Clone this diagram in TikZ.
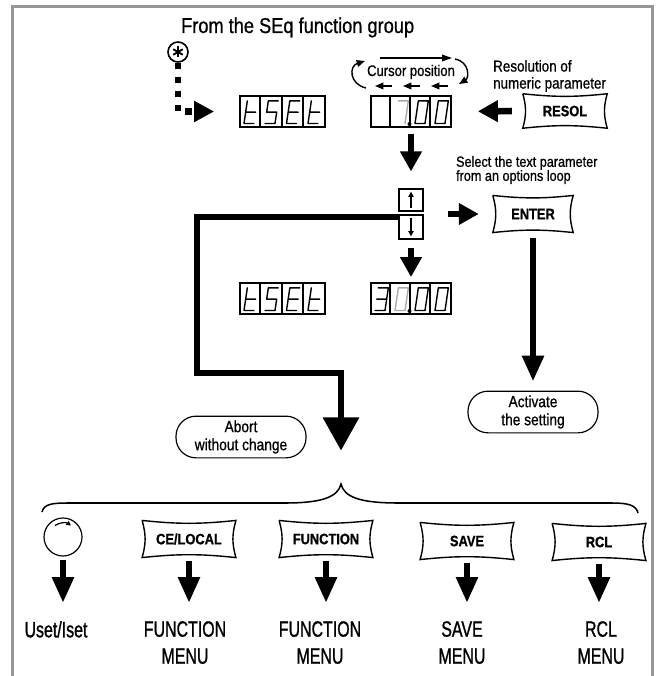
\documentclass[tikz,border=0pt]{standalone}
\usepackage{fontspec}
\setmainfont[FakeStretch=0.85, FakeBold=0.8]{Liberation Sans}
\newfontfamily\condfont[FakeStretch=0.72, FakeBold=1]{Liberation Sans}
\usetikzlibrary{arrows.meta, positioning, calc}

\definecolor{framegray}{RGB}{150,150,150}
\definecolor{dimseg}{RGB}{170,170,170}

\newcommand{\cushion}[1]{%
  \draw[line width=1.2pt] (#1.north west) to[bend right=6] (#1.north east)
    to[bend right=16] (#1.south east) to[bend right=6] (#1.south west)
    to[bend right=16] (#1.north west);}

\tikzset{
  disp/.style={draw, line width=1.5pt, minimum width=2.55cm, minimum height=0.93cm, inner sep=0pt},
  seg/.style={line width=1.2pt, line cap=round, line join=round, x={(0.3cm,0)}, y={(0.05cm,0.34cm)}},
  pics/segt/.style={code={\draw[seg] (0,2) -- (0,0) -- (1,0) (0,1) -- (1,1);}},
  pics/segs/.style={code={\draw[seg] (1,2) -- (0,2) -- (0,1) -- (1,1) -- (1,0) -- (0,0);}},
  pics/sege/.style={code={\draw[seg] (1,2) -- (0,2) -- (0,0) -- (1,0) (0,1) -- (1,1);}},
  pics/segseven/.style={code={\draw[seg] (0,2) -- (1,2) -- (1,0);}},
  pics/segzero/.style={code={\draw[seg] (0,0) -- (1,0) -- (1,2) -- (0,2) -- cycle;}},
  pics/segthree/.style={code={\draw[seg] (0,2) -- (1,2) -- (1,0) -- (0,0) (0,1) -- (1,1);}},
  btn/.style={minimum width=2.8cm, minimum height=1.1cm, inner sep=0pt, font=\bfseries\fontsize{12.9}{14}\selectfont},
  pill/.style={draw, line width=1pt, rounded corners=0.6cm, minimum width=3.9cm, minimum height=1.25cm,
    inner sep=0pt, align=center, font=\fontsize{13.8}{15.4}\selectfont},
  lab/.style={anchor=north, inner sep=0pt, align=center, font=\condfont\fontsize{18.9}{23}\selectfont},
  bigarrow/.style={line width=0.2cm, -{Triangle[length=0.6cm, width=0.62cm]}},
  longarrow/.style={line width=0.2cm, -{Triangle[length=0.78cm, width=0.62cm]}},
  thinarrow/.style={line width=1.2pt, -{Triangle[length=0.25cm, width=0.2cm]}}
}

\begin{document}
\begin{tikzpicture}[x=0.03cm, y=-0.03cm]
\useasboundingbox (0,0) rectangle (656,676);
% frame
\draw[framegray, line width=0.09cm] (12,676) -- (12,7) -- (652,7) -- (652,676);

% entry from the SEq group
\node[anchor=base west, font=\fontsize{18.3}{20}\selectfont] (head) at (177,33) {From the SEq function group};
\node[draw, circle, line width=1.4pt, minimum size=0.6cm, inner sep=0pt] (star) at (178,52) {};
\foreach \a in {90,30,150}
  \draw[line width=1.6pt] ($(star)+(\a:5.5)$) -- ($(star)+(\a+180:5.5)$);

% displays
\node[disp] (d1) at (282.5,111.5) {};
\node[disp, minimum width=2.4cm] (d2) at (411,111.5) {};
\node[disp] (d3) at (282.5,298.5) {};
\node[disp, minimum width=2.4cm] (d4) at (411,298.5) {};
\foreach \d/\w in {d1/21.25, d3/21.25, d2/20, d4/20}
  \foreach \i in {1,2,3}
    \draw[line width=1.5pt] ($(\d.north west)+(\i*\w,0)$) -- ($(\d.south west)+(\i*\w,0)$);

% digits
\pic at (244,123.5) {segt};
\pic at (265,123.5) {segs};
\pic at (286.5,123.5) {sege};
\pic at (308,123.5) {segt};
\pic[dimseg] at (395,123.5) {segseven};
\fill (409.5,124) circle (1.7pt);
\pic at (415,123.5) {segzero};
\pic at (435,123.5) {segzero};

\pic at (244,310.5) {segt};
\pic at (265,310.5) {segs};
\pic at (286.5,310.5) {sege};
\pic at (308,310.5) {segt};
\pic at (375,310.5) {segthree};
\pic[dimseg] at (395,310.5) {segzero};
\fill (409.5,311) circle (1.7pt);
\pic at (415,310.5) {segzero};
\pic at (435,310.5) {segzero};

\draw[line width=0.2cm, dash pattern=on 0.2cm off 0.22cm, shorten >=0.75cm,
  -{Triangle[length=0.6cm, width=0.6cm]}] (star.south) |- (d1.west);

% cursor loop
\node[font=\fontsize{13.1}{14}\selectfont] (cur) at (411,72) {Cursor position};
\draw[line width=1.2pt, -{Triangle[length=0.3cm, width=0.2cm]}] (380,58) -- (452,58);
\draw[thinarrow] (455,59) .. controls (470,62) and (469,78) .. (459,84);
\draw[thinarrow] (366,88) .. controls (349,84) and (349,66) .. (365,61);
\foreach \x in {375,403,431}
  \draw[thinarrow] (\x+17,86) -- (\x,86);

% resolution
\node[btn, minimum width=2.52cm, minimum height=1.02cm] (resol) at (565,111) {RESOL};
\cushion{resol}
\node[anchor=west, align=left, font=\fontsize{13.5}{14.5}\selectfont] (restxt) at (489,76) {Resolution of\\numeric parameter};
\draw[bigarrow, shorten <=0.33cm, shorten >=0.78cm] (resol.west) -- (d2.east);

% up / down keys
\node[draw, line width=1.5pt, minimum width=0.72cm, minimum height=0.66cm] (ub) at (411,200) {};
\node[draw, line width=1.5pt, minimum width=0.72cm, minimum height=0.72cm] (db) at (411,227) {};
\draw[line width=1.3pt, -{Triangle[length=4.5pt, width=4.5pt]}] ([yshift=3pt]ub.south) -- ([yshift=-3pt]ub.north);
\draw[line width=1.3pt, -{Triangle[length=4.5pt, width=4.5pt]}] ([yshift=-3pt]db.north) -- ([yshift=3pt]db.south);
\draw[bigarrow, shorten <=0.18cm, shorten >=0.5cm] (d2.south) -- (ub.north);
\draw[bigarrow, shorten <=0.24cm, shorten >=0.15cm] (db.south) -- (d4.north);

% enter
\node[anchor=west, align=left, font=\fontsize{12.7}{12}\selectfont] (seltxt) at (452,170) {Select the text parameter\\from an options loop};
\node[btn, minimum width=2.4cm] (enter) at (533,214) {ENTER};
\cushion{enter}
\coordinate (udmid) at (423,214);
\draw[bigarrow, shorten <=0.75cm, shorten >=0.42cm] (udmid) -- (enter.west);
\node[pill] (act) at (533,412) {Activate\\the setting};
\draw[longarrow, shorten <=0.15cm, shorten >=0.27cm] (enter.south) -- (act.north);

% abort
\node[pill] (abort) at (241,437) {Abort\\without change};
\coordinate (brtip) at (341,484);
\draw[line width=0.2cm, shorten >=1cm, -{Triangle[length=1cm, width=1.05cm]}]
  ($(db.north west)+(0,3)$) -| (197,373) -| (brtip);
\draw[line width=1.3pt] (42,512) .. controls (44,504) and (52,503) .. (68,503) -- (285,503)
  .. controls (322,503) and (338,497) .. (brtip) .. controls (344,497) and (360,503) .. (398,503)
  -- (612,503) .. controls (628,503) and (636,505) .. (638,513);

% keys below
\node[draw, circle, line width=1pt, minimum size=1.14cm, inner sep=0pt] (knob) at (63,537) {};
\draw[line width=1pt, -{Triangle[length=4pt, width=4pt]}] ($(knob)+(235:14)$) arc (235:305:14);
\node[btn] (ce) at (189,539) {CE/LOCAL};
\node[btn] (fn) at (326,539) {FUNCTION};
\node[btn] (save) at (467,541) {SAVE};
\node[btn] (rcl) at (599,542) {RCL};
\foreach \b in {ce,fn,save,rcl} {\cushion{\b}}

\node[lab] (l0) at (56,621) {Uset/Iset};
\node[lab] (l1) at (185,621) {FUNCTION\\MENU};
\node[lab] (l2) at (320,621) {FUNCTION\\MENU};
\node[lab] (l3) at (462,621) {SAVE\\MENU};
\node[lab] (l4) at (601,621) {RCL\\MENU};
\foreach \b/\l in {knob/l0, ce/l1, fn/l2, save/l3, rcl/l4}
  \draw[longarrow, shorten <=0.09cm, shorten >=0.54cm] (\b.south) -- (\b.south |- \l.north);
\end{tikzpicture}
\end{document}
